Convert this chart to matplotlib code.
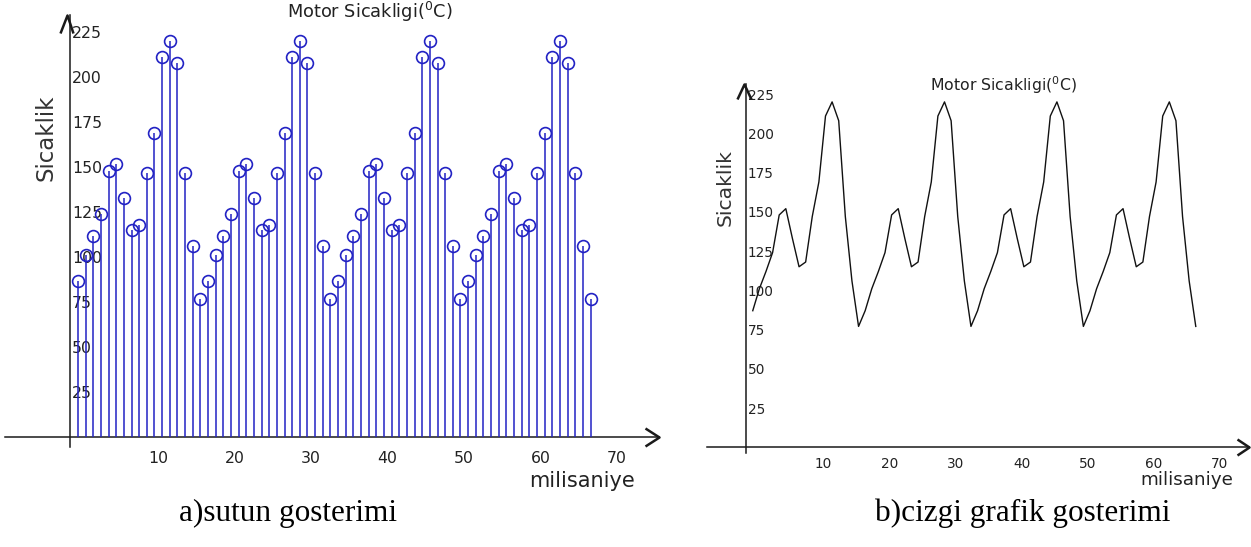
import matplotlib
matplotlib.use('Agg')
import matplotlib.pyplot as plt
import matplotlib.transforms as mtransforms
from matplotlib.path import Path

# zaman ekseni (milisaniye) ve motor sicakligi degerleri
zaman = list(range(1, 69))
sicaklik = [87, 101, 112, 124, 148, 152, 133, 115, 118, 147, 169, 211, 220, 208, 147, 106, 77,
            87, 101, 112, 124, 148, 152, 133, 115, 118, 147, 169, 211, 220, 208, 147, 106, 77,
            87, 101, 112, 124, 148, 152, 133, 115, 118, 147, 169, 211, 220, 208, 147, 106, 77,
            87, 101, 112, 124, 148, 152, 133, 115, 118, 147, 169, 211, 220, 208, 147, 106, 77]

x_ticks = [10, 20, 30, 40, 50, 60, 70]
y_ticks = [25, 50, 75, 100, 125, 150, 175, 200, 225]

baslik = r'Motor Sicakligi($^{0}$C)'
y_etiket = 'Sicaklik'
x_etiket = 'milisaniye'
alt_yazi_a = 'a)sutun gosterimi'
alt_yazi_b = 'b)cizgi grafik gosterimi'

W, H = 1251, 547
fig = plt.figure(figsize=(W / 100, H / 100), dpi=100)
eksen_renk = '#1a1a1a'
yazi_renk = '#222222'


def piksel_eksen(x0, x1, ytop, ybot):
    # piksel kutusundan axes olustur
    return fig.add_axes([x0 / W, 1 - ybot / H, (x1 - x0) / W, (ybot - ytop) / H])


def piksel_yazi(x, y, s, **kw):
    return fig.text(x / W, 1 - y / H, s, **kw)


def eksen_hazirla(ax, xlim, ylim, fs, pad_x, sag_ok, ust_ok):
    ax.set_xlim(xlim)
    ax.set_ylim(ylim)
    ax.patch.set_alpha(0)
    for s in ['top', 'right']:
        ax.spines[s].set_visible(False)
    for s in ['left', 'bottom']:
        ax.spines[s].set_position(('data', 0))
        ax.spines[s].set_linewidth(1.1)
        ax.spines[s].set_color(eksen_renk)
    ax.set_xticks(x_ticks)
    ax.set_yticks(y_ticks)
    ax.tick_params(length=0, labelsize=fs, labelcolor=yazi_renk)
    ax.tick_params(axis='x', pad=pad_x)
    ax.tick_params(axis='y', pad=-1.2)
    for t in ax.get_yticklabels():
        t.set_horizontalalignment('left')
    kaydir = mtransforms.ScaledTranslation(0.11, 0, fig.dpi_scale_trans)
    for t in ax.get_xticklabels():
        t.set_transform(t.get_transform() + kaydir)
    # eksen uclarindaki oklar
    ok_yol, ok_ms = sag_ok
    ax.plot([xlim[1]], [0], marker=ok_yol, ms=ok_ms, mfc='none', mec=eksen_renk,
            mew=1.8, ls='none', clip_on=False)
    ok_yol, ok_ms = ust_ok
    ax.plot([0], [ylim[1]], marker=ok_yol, ms=ok_ms, mfc='none', mec=eksen_renk,
            mew=1.8, ls='none', clip_on=False)


def chevron(pts):
    yol = Path(pts, [Path.MOVETO, Path.LINETO, Path.LINETO])
    m = max(abs(v) for p in pts for v in p)
    return yol, 2 * m * 0.72


# ---------------- a) sutun gosterimi ----------------
ax1 = piksel_eksen(5, 659, 15, 446.7)
eksen_hazirla(ax1, (-8.54, 76.95), (-5.22, 234.6), 11.3, 10.2,
              chevron([(-14, 9), (0, 0), (-14, -9)]),
              chevron([(-10, -18), (-3, 0), (3, -18)]))
kutu = ax1.stem(zaman, sicaklik, basefmt=' ')
kutu.markerline.set_marker('o')
kutu.markerline.set_markersize(8.5)
kutu.markerline.set_markerfacecolor('none')
kutu.markerline.set_markeredgecolor('#2222c4')
kutu.markerline.set_markeredgewidth(1.2)
kutu.markerline.set_zorder(4)
kutu.stemlines.set_color('#2222c4')
kutu.stemlines.set_linewidth(1.1)
kutu.stemlines.set_zorder(3)

piksel_yazi(370, 18.5, baslik, ha='center', va='baseline', fontsize=12.8, color=yazi_renk)
piksel_yazi(46, 138, y_etiket, ha='center', va='center', rotation=90, fontsize=16.5, color='#333333')
piksel_yazi(582, 487, x_etiket, ha='center', va='baseline', fontsize=15, color=yazi_renk)

# ---------------- b) cizgi grafik gosterimi ----------------
ax2 = piksel_eksen(707, 1249, 84, 453.5)
eksen_hazirla(ax2, (-5.92, 76.05), (-3.95, 231.4), 9.8, 7.3,
              chevron([(-12, 8), (0, 0), (-12, -8)]),
              chevron([(-9, -15), (-2, 0), (5, -15)]))
ax2.plot(zaman, sicaklik, color='#111111', linewidth=1.0, zorder=3)

piksel_yazi(1003, 90.5, baslik, ha='center', va='baseline', fontsize=11.3, color=yazi_renk)
piksel_yazi(725, 188, y_etiket, ha='center', va='center', rotation=90, fontsize=14.6, color='#333333')
piksel_yazi(1187, 485, x_etiket, ha='center', va='baseline', fontsize=13.2, color=yazi_renk)

# alt yazilar
piksel_yazi(288, 521, alt_yazi_a, ha='center', va='baseline', fontsize=22.5,
            family='Liberation Serif', color='black')
piksel_yazi(1023, 521, alt_yazi_b, ha='center', va='baseline', fontsize=22.5,
            family='Liberation Serif', color='black')

fig.savefig('out.png', dpi=100)
